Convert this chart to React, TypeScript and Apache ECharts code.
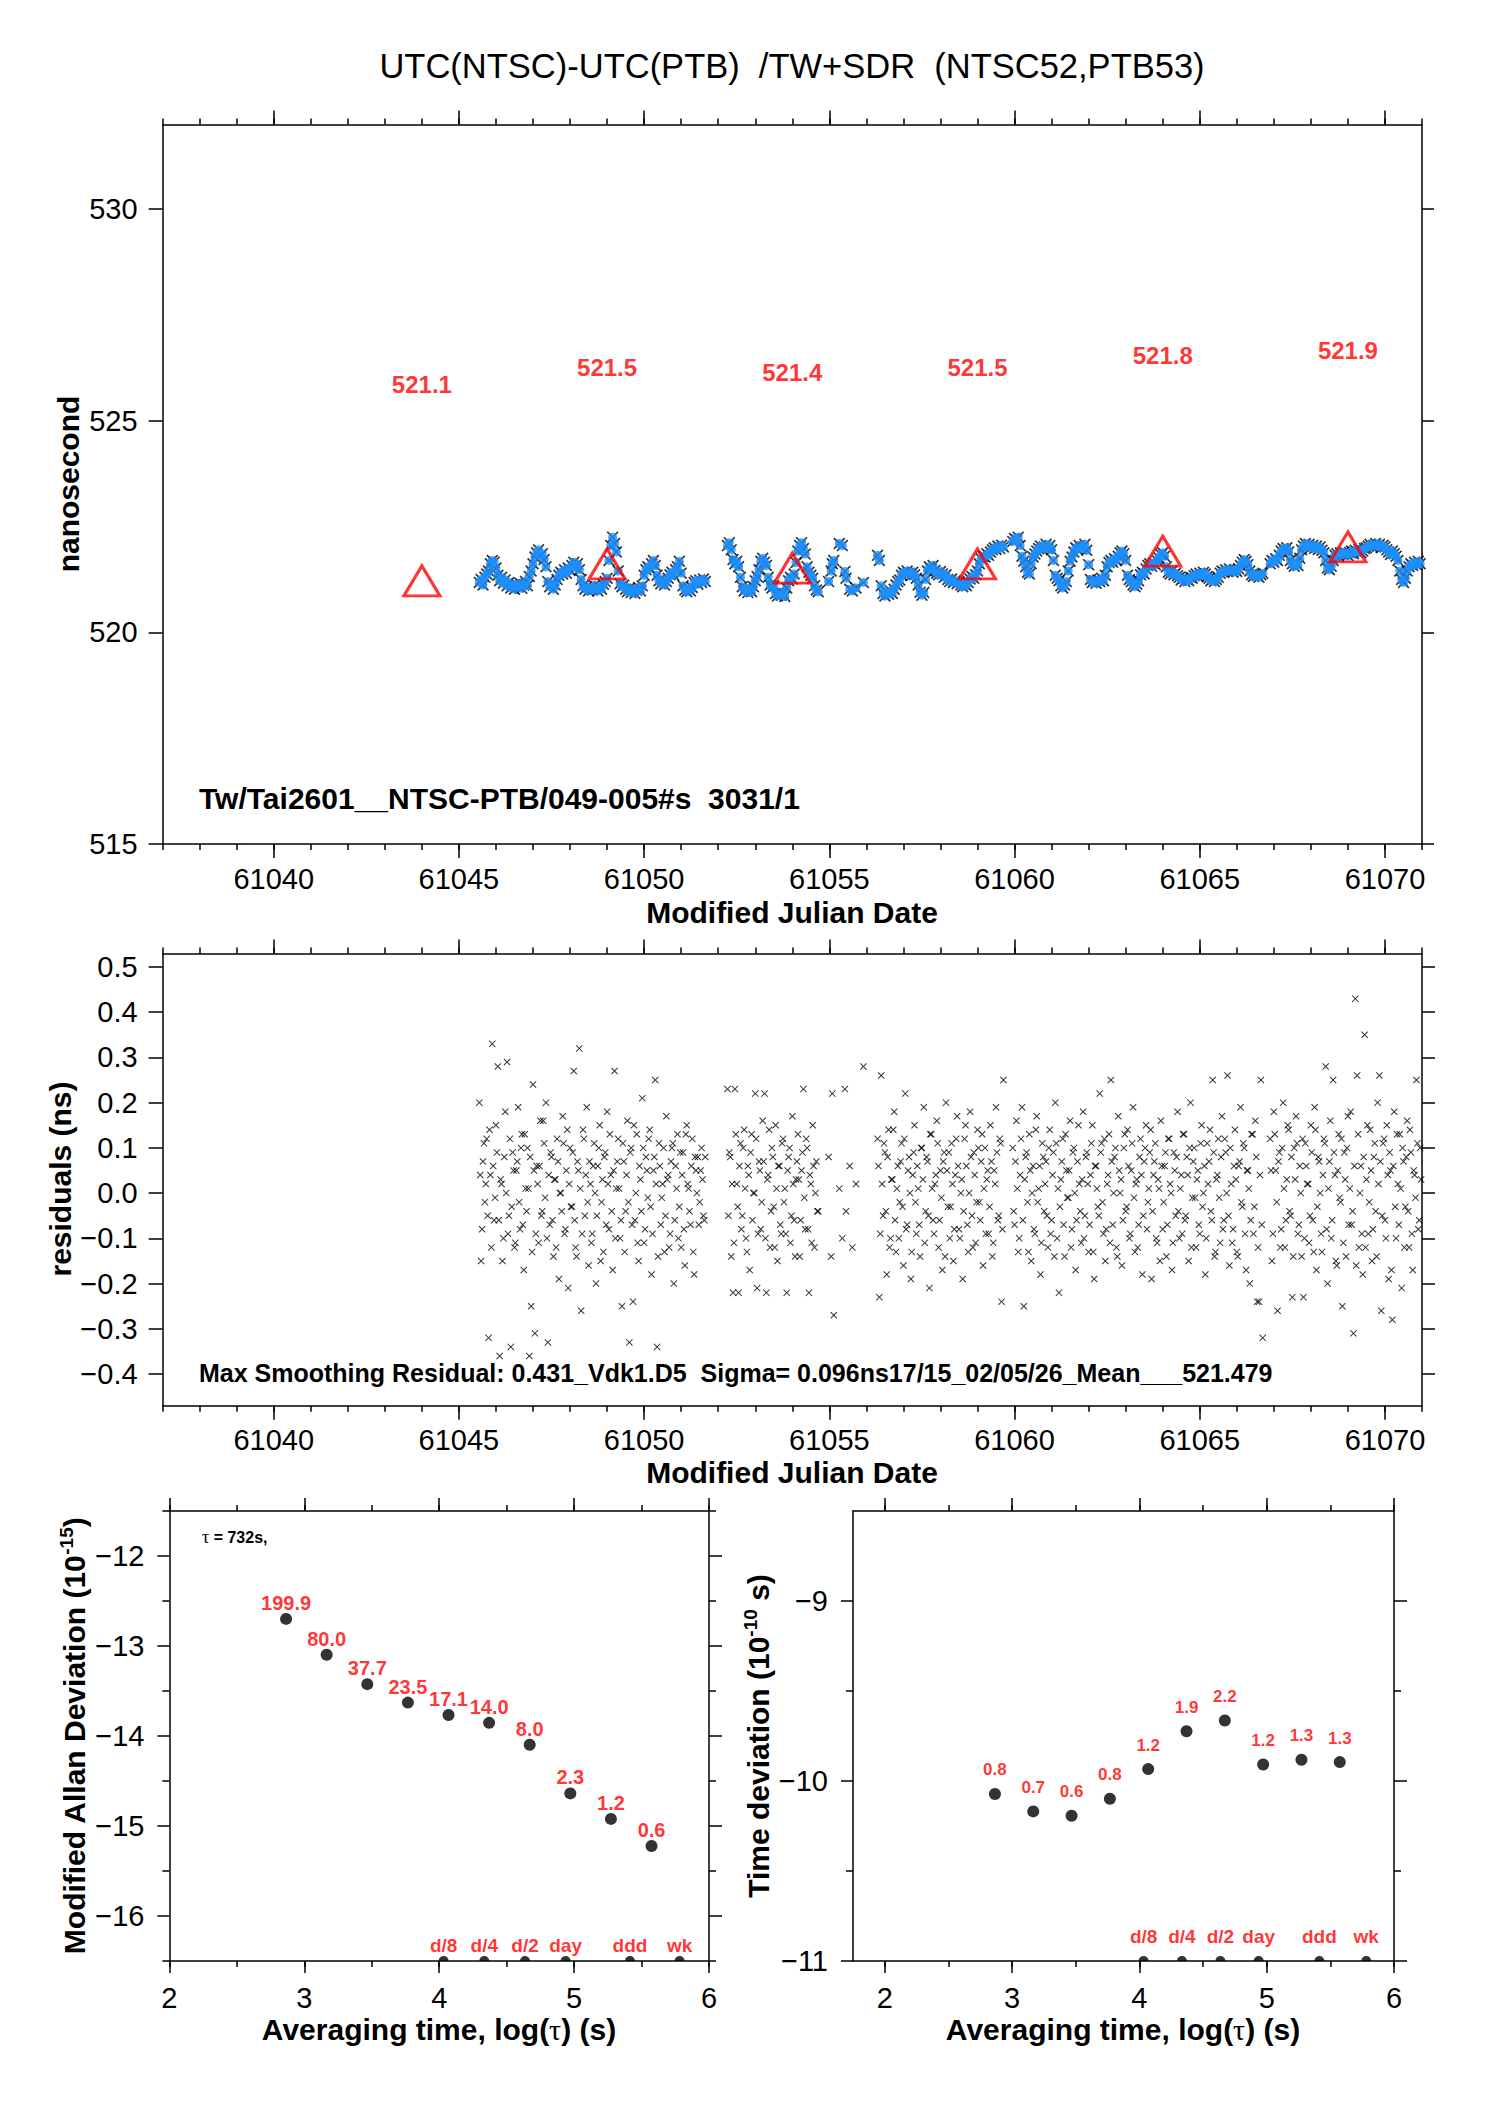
import React, { useEffect, useRef } from 'react';
import * as echarts from 'echarts';

const FONT = '"Liberation Sans", Arial, Helvetica, sans-serif';
const SERIF = '"Liberation Serif", "DejaVu Serif", "Times New Roman", serif';

// ---------- top panel: UTC(NTSC)-UTC(PTB) ----------
const mjdTicks = [61040, 61045, 61050, 61055, 61060, 61065, 61070];
const nsTicks = [515, 520, 525, 530];
const triDays = [61044, 61049, 61054, 61059, 61064, 61069];
const triValues = [521.1, 521.5, 521.4, 521.5, 521.8, 521.9];
const triLabels = ['521.1', '521.5', '521.4', '521.5', '521.8', '521.9'];

// segment A
const tA = [
  61045.55,61045.6,61045.65,61045.7,61045.75,61045.8,61045.85,61045.9,61045.95,61046,
  61046.05,61046.1,61046.15,61046.2,61046.25,61046.3,61046.35,61046.4,61046.45,61046.5,
  61046.55,61046.6,61046.65,61046.7,61046.75,61046.8,61046.85,61046.9,61046.95,61047,
  61047.05,61047.1,61047.15,61047.2,61047.25,61047.3,61047.35,61047.4,61047.45,61047.5,
  61047.55,61047.6,61047.65,61047.7,61047.75,61047.8,61047.85,61047.9,61047.95,61048,
  61048.05,61048.1,61048.15,61048.2,61048.25,61048.3,61048.35,61048.4,61048.45,61048.5,
  61048.55,61048.6,61048.65,61048.7,61048.75,61048.8,61048.85,61048.9,61048.95,61049,
  61049.05,61049.1,61049.15,61049.2,61049.25,61049.3,61049.35,61049.4,61049.45,61049.5,
  61049.55,61049.6,61049.65,61049.7,61049.75,61049.8,61049.85,61049.9,61049.95,61050,
  61050.05,61050.1,61050.15,61050.2,61050.25,61050.3,61050.35,61050.4,61050.45,61050.5,
  61050.55,61050.6,61050.65,61050.7,61050.75,61050.8,61050.85,61050.9,61050.95,61051,
  61051.05,61051.1,61051.15,61051.2,61051.25,61051.3,61051.35,61051.4,61051.45,61051.5,
  61051.55,61051.6,61051.65,
];
const vA = [
  521.18,521.25,521.12,521.30,521.38,521.45,521.62,521.70,521.66,521.52,
  521.35,521.22,521.30,521.16,521.24,521.10,521.18,521.05,521.12,521.02,
  521.14,521.08,521.16,521.04,521.12,521.20,521.10,521.32,521.45,521.62,
  521.78,521.88,521.95,521.80,521.86,521.72,521.55,521.20,521.08,521.14,
  521.02,521.12,521.25,521.35,521.42,521.38,521.48,521.40,521.52,521.46,
  521.58,521.66,521.54,521.62,521.48,521.25,521.10,521.02,521.08,520.98,
  521.06,521.00,521.10,521.04,520.98,521.08,521.02,521.14,521.20,521.28,
  521.70,522.05,522.25,522.10,521.90,521.45,521.15,521.08,521.12,521.02,
  520.96,521.05,520.94,521.02,520.92,521.00,521.06,520.98,521.10,521.35,
  521.48,521.55,521.50,521.62,521.70,521.58,521.35,521.22,521.15,521.24,
  521.12,521.20,521.28,521.36,521.42,521.35,521.48,521.55,521.68,521.40,
  521.10,521.00,520.96,521.04,520.98,521.06,521.18,521.22,521.14,521.24,
  521.18,521.26,521.20,
];
const rA = [
  0.20,-0.15,0.07,-0.02,0.12,-0.32,0.04,0.33,-0.06,0.15,
  0.28,-0.36,0.02,-0.10,0.18,0.29,-0.05,-0.34,0.09,-0.12,
  0.05,0.19,-0.08,0.13,-0.17,0.01,0.10,-0.36,-0.25,0.24,
  -0.31,0.06,-0.11,0.16,-0.04,0.11,0.20,-0.33,-0.07,0.08,
  -0.14,0.03,0.12,-0.19,0.00,0.17,-0.09,0.05,-0.21,0.10,
  -0.03,0.27,-0.12,0.07,0.32,-0.26,0.14,-0.05,0.19,-0.16,
  0.02,-0.09,0.11,-0.20,0.06,0.15,-0.02,-0.13,0.09,0.18,
  -0.08,0.04,-0.17,0.27,0.01,0.12,-0.10,-0.25,0.07,-0.04,
  0.16,-0.33,0.10,-0.24,-0.06,0.13,-0.15,0.03,0.21,-0.11,
  0.08,-0.01,0.14,-0.18,0.05,0.25,-0.34,0.11,-0.07,0.02,
  -0.13,0.17,0.04,-0.09,0.10,-0.20,0.06,0.13,-0.03,-0.12,
  0.09,-0.16,0.15,0.01,-0.07,0.12,-0.18,0.05,0.08,-0.02,
  0.10,-0.05,0.08,
];

// segment B
const tB = [
  61052.25,61052.3,61052.35,61052.4,61052.45,61052.5,61052.55,61052.6,61052.65,61052.7,
  61052.75,61052.8,61052.85,61052.9,61052.95,61053,61053.05,61053.1,61053.15,61053.2,
  61053.25,61053.3,61053.35,61053.4,61053.45,61053.5,61053.55,61053.6,61053.65,61053.7,
  61053.75,61053.8,61053.85,61053.9,61053.95,61054,61054.05,61054.1,61054.15,61054.2,
  61054.25,61054.3,61054.35,61054.4,61054.45,61054.5,61054.55,61054.6,61054.65,61054.7,
];
const vB = [
  522.05,522.12,521.95,521.72,521.62,521.68,521.55,521.30,521.08,520.98,
  521.04,520.94,521.02,520.96,521.08,521.22,521.32,521.48,521.68,521.75,
  521.66,521.58,521.30,521.12,521.05,521.10,520.92,520.86,520.95,520.88,
  520.92,520.85,521.05,521.22,521.30,521.26,521.38,521.65,521.92,522.05,
  522.12,521.98,521.85,521.55,521.42,521.35,521.28,521.10,521.00,520.96,
];
const rB = [
  0.23,0.09,-0.14,-0.22,0.23,0.02,-0.22,0.11,-0.05,0.14,
  -0.10,0.06,-0.17,0.13,0.00,0.22,-0.21,0.07,-0.08,0.16,
  0.22,-0.22,0.04,-0.12,0.10,-0.03,0.15,-0.15,0.06,-0.09,
  0.12,0.01,-0.22,0.08,-0.11,0.17,-0.06,0.03,0.13,-0.14,
  0.05,0.23,-0.08,0.10,-0.22,0.02,0.15,-0.12,0.07,-0.04,
];

// sparse stretch
const tS = [61054.98,61055.05,61055.08,61055.12,61055.27,61055.35,61055.42,61055.45,61055.55,61055.62,61055.72,61055.92];
const vS = [521.20,521.45,521.62,521.70,522.10,522.05,521.44,521.28,521.02,520.98,521.05,521.18];
const rS = [0.08,-0.14,0.22,-0.27,0.01,-0.10,0.23,-0.04,0.06,-0.12,0.02,0.28];

// segment C
const tC = [
  61056.3,61056.35,61056.4,61056.45,61056.5,61056.55,61056.6,61056.65,61056.7,61056.75,
  61056.8,61056.85,61056.9,61056.95,61057,61057.05,61057.1,61057.15,61057.2,61057.25,
  61057.3,61057.35,61057.4,61057.45,61057.5,61057.55,61057.6,61057.65,61057.7,61057.75,
  61057.8,61057.85,61057.9,61057.95,61058,61058.05,61058.1,61058.15,61058.2,61058.25,
  61058.3,61058.35,61058.4,61058.45,61058.5,61058.55,61058.6,61058.65,61058.7,61058.75,
  61058.8,61058.85,61058.9,61058.95,61059,61059.05,61059.1,61059.15,61059.2,61059.25,
  61059.3,61059.35,61059.4,61059.45,61059.5,61059.55,61059.6,61059.65,61059.7,
];
const vC = [
  521.82,521.70,521.10,520.92,520.86,520.95,520.90,520.98,520.92,521.02,
  521.12,521.20,521.24,521.35,521.42,521.38,521.45,521.40,521.34,521.42,
  521.36,521.28,521.12,520.95,520.88,520.94,521.25,521.45,521.55,521.50,
  521.58,521.46,521.40,521.36,521.44,521.38,521.30,521.36,521.25,521.20,
  521.26,521.18,521.22,521.15,521.20,521.12,521.08,521.14,521.10,521.18,
  521.26,521.32,521.28,521.36,521.45,521.62,521.74,521.80,521.78,521.86,
  521.82,521.90,521.95,522.00,521.96,522.04,521.98,522.06,522.02,
];
const rC = [
  0.12,-0.23,0.26,-0.05,0.09,-0.18,0.14,-0.10,0.03,0.18,
  -0.13,0.06,-0.02,0.11,-0.16,0.22,-0.07,0.08,-0.19,0.04,
  0.15,-0.09,0.01,-0.14,0.10,0.19,-0.04,0.07,-0.21,0.13,
  -0.06,0.02,0.16,-0.12,0.05,-0.17,0.09,0.20,-0.03,-0.10,
  0.11,-0.15,0.04,0.17,-0.08,0.00,-0.19,0.12,0.06,-0.13,
  0.18,-0.05,0.09,-0.11,0.14,-0.02,0.07,-0.16,0.10,0.03,
  -0.09,0.15,-0.14,0.05,0.19,-0.06,0.12,-0.24,0.25,
];

// segment D
const tD = [
  61059.95,61060,61060.05,61060.1,61060.15,61060.2,61060.25,61060.3,61060.35,61060.4,
  61060.45,61060.5,61060.55,61060.6,61060.65,61060.7,61060.75,61060.8,61060.85,61060.9,
  61060.95,61061,61061.05,61061.1,61061.15,61061.2,61061.25,61061.3,61061.35,61061.4,
  61061.45,61061.5,61061.55,61061.6,61061.65,61061.7,61061.75,61061.8,61061.85,61061.9,
  61061.95,61062,61062.05,61062.1,61062.15,61062.2,61062.25,61062.3,61062.35,61062.4,
  61062.45,61062.5,61062.55,61062.6,61062.65,61062.7,61062.75,61062.8,61062.85,61062.9,
  61062.95,61063,61063.05,61063.1,61063.15,61063.2,61063.25,61063.3,61063.35,61063.4,
  61063.45,61063.5,61063.55,61063.6,61063.65,61063.7,61063.75,61063.8,61063.85,61063.9,
  61063.95,61064,61064.05,61064.1,61064.15,61064.2,61064.25,61064.3,61064.35,61064.4,
  61064.45,61064.5,61064.55,61064.6,61064.65,61064.7,61064.75,61064.8,61064.85,61064.9,
  61064.95,61065,61065.05,61065.1,61065.15,61065.2,61065.25,61065.3,61065.35,61065.4,
  61065.45,61065.5,61065.55,61065.6,61065.65,61065.7,61065.75,61065.8,61065.85,61065.9,
  61065.95,61066,61066.05,61066.1,61066.15,61066.2,61066.25,61066.3,61066.35,61066.4,
  61066.45,61066.5,61066.55,61066.6,61066.65,61066.7,
];
const vD = [
  522.15,522.22,522.18,522.25,522.05,521.80,521.68,521.55,521.42,521.38,
  521.62,521.78,521.85,521.92,521.98,522.04,521.96,522.02,522.08,521.98,
  522.05,521.95,521.70,521.35,521.28,521.22,521.10,521.05,521.12,521.20,
  521.45,521.68,521.78,521.90,522.00,521.96,522.05,521.98,522.02,522.08,
  521.94,521.60,521.25,521.18,521.22,521.16,521.24,521.20,521.28,521.22,
  521.35,521.55,521.65,521.70,521.66,521.74,521.70,521.80,521.88,521.92,
  521.86,521.70,521.35,521.25,521.20,521.12,521.08,521.14,521.22,521.36,
  521.42,521.38,521.50,521.58,521.62,521.56,521.64,521.60,521.70,521.76,
  521.84,521.88,521.80,521.55,521.42,521.38,521.45,521.36,521.40,521.34,
  521.30,521.24,521.28,521.20,521.26,521.22,521.30,521.28,521.34,521.38,
  521.32,521.40,521.36,521.42,521.38,521.32,521.28,521.22,521.26,521.20,
  521.25,521.30,521.40,521.45,521.42,521.48,521.44,521.50,521.46,521.42,
  521.48,521.44,521.50,521.58,521.66,521.72,521.68,521.60,521.45,521.36,
  521.32,521.38,521.34,521.30,521.36,521.40,
];
const rD = [
  0.10,-0.07,0.16,-0.13,0.04,0.19,-0.25,0.08,-0.02,0.13,
  -0.15,0.06,-0.09,0.17,0.01,-0.18,0.11,-0.04,0.07,-0.12,
  0.14,-0.06,0.09,0.20,-0.10,-0.22,0.03,0.12,-0.14,0.05,
  -0.01,0.16,-0.08,0.10,-0.17,0.07,0.02,-0.11,0.18,-0.05,
  0.09,-0.13,0.04,0.15,-0.19,0.06,-0.03,0.22,0.11,-0.09,
  -0.15,0.02,0.13,0.25,-0.07,0.08,-0.12,0.17,0.00,-0.16,
  0.10,-0.04,0.14,-0.10,0.05,0.19,-0.13,0.03,-0.07,0.12,
  -0.18,0.07,0.15,-0.02,0.09,-0.19,0.04,0.11,-0.11,0.01,
  0.16,-0.08,0.06,-0.14,0.12,0.02,-0.17,0.09,-0.05,0.18,
  -0.10,0.04,0.13,-0.06,0.08,-0.15,0.20,-0.01,0.10,-0.12,
  0.05,-0.09,0.15,0.00,-0.18,0.11,0.07,-0.04,0.25,-0.14,
  0.03,0.12,-0.11,0.17,-0.06,0.09,0.26,-0.16,0.02,-0.08,
  0.14,-0.13,0.06,0.19,-0.03,0.10,-0.17,0.05,-0.20,0.13,
  -0.09,0.16,-0.24,-0.24,0.25,-0.32,
];

// segment E
const tE = [
  61066.9,61066.95,61067,61067.05,61067.1,61067.15,61067.2,61067.25,61067.3,61067.35,
  61067.4,61067.45,61067.5,61067.55,61067.6,61067.65,61067.7,61067.75,61067.8,61067.85,
  61067.9,61067.95,61068,61068.05,61068.1,61068.15,61068.2,61068.25,61068.3,61068.35,
  61068.4,61068.45,61068.5,61068.55,61068.6,61068.65,61068.7,61068.75,61068.8,61068.85,
  61068.9,61068.95,61069,61069.05,61069.1,61069.15,61069.2,61069.25,61069.3,61069.35,
  61069.4,61069.45,61069.5,61069.55,61069.6,61069.65,61069.7,61069.75,61069.8,61069.85,
  61069.9,61069.95,61070,61070.05,61070.1,61070.15,61070.2,61070.25,61070.3,61070.35,
  61070.4,61070.45,61070.5,61070.55,61070.6,61070.65,61070.7,61070.75,61070.8,61070.85,
  61070.9,61070.95,
];
const vE = [
  521.62,521.70,521.66,521.74,521.70,521.82,521.92,521.98,521.94,522.00,
  521.90,521.70,521.62,521.56,521.64,521.58,521.75,521.95,522.04,522.10,
  522.02,522.08,522.00,522.06,521.98,522.04,521.96,522.02,521.94,521.88,
  521.70,521.52,521.48,521.56,521.70,521.82,521.86,521.80,521.88,521.84,
  521.90,521.86,521.82,521.88,521.92,521.86,521.94,521.90,521.96,521.88,
  521.92,521.98,522.00,522.04,522.08,522.02,522.06,522.10,522.04,522.08,
  522.00,522.06,522.02,521.95,521.90,521.84,521.92,521.86,521.80,521.70,
  521.45,521.25,521.18,521.28,521.45,521.55,521.62,521.58,521.66,521.60,
  521.68,521.62,
];
const rE = [
  0.12,-0.15,0.18,0.05,-0.26,0.09,-0.08,0.20,-0.12,0.03,
  0.14,-0.05,-0.23,0.10,0.17,-0.09,0.06,-0.14,-0.23,0.11,
  0.02,-0.11,0.15,-0.06,0.19,-0.17,0.08,0.00,-0.13,0.12,
  0.28,-0.20,0.07,-0.10,0.25,0.04,-0.16,0.13,-0.02,-0.25,
  0.09,-0.14,0.17,0.01,-0.07,-0.31,0.43,0.26,-0.12,0.06,
  -0.18,0.35,0.03,-0.09,0.14,-0.15,0.08,-0.04,0.20,0.26,
  -0.26,0.11,-0.06,0.15,-0.19,0.05,-0.28,0.18,-0.10,0.02,
  0.13,-0.21,0.07,-0.03,0.16,-0.12,0.09,-0.17,0.04,0.25,
  -0.08,0.10,
];

// ---------- middle panel: extra residual samples between the ones above ----------
const tA2 = [
  61045.575,61045.625,61045.675,61045.725,61045.775,61045.825,61045.875,61045.925,61045.975,61046.025,
  61046.075,61046.125,61046.175,61046.225,61046.275,61046.325,61046.375,61046.425,61046.475,61046.525,
  61046.575,61046.625,61046.675,61046.725,61046.775,61046.825,61046.875,61046.925,61046.975,61047.025,
  61047.075,61047.125,61047.175,61047.225,61047.275,61047.325,61047.375,61047.425,61047.475,61047.525,
  61047.575,61047.625,61047.675,61047.725,61047.775,61047.825,61047.875,61047.925,61047.975,61048.025,
  61048.075,61048.125,61048.175,61048.225,61048.275,61048.325,61048.375,61048.425,61048.475,61048.525,
  61048.575,61048.625,61048.675,61048.725,61048.775,61048.825,61048.875,61048.925,61048.975,61049.025,
  61049.075,61049.125,61049.175,61049.225,61049.275,61049.325,61049.375,61049.425,61049.475,61049.525,
  61049.575,61049.625,61049.675,61049.725,61049.775,61049.825,61049.875,61049.925,61049.975,61050.025,
  61050.075,61050.125,61050.175,61050.225,61050.275,61050.325,61050.375,61050.425,61050.475,61050.525,
  61050.575,61050.625,61050.675,61050.725,61050.775,61050.825,61050.875,61050.925,61050.975,61051.025,
  61051.075,61051.125,61051.175,61051.225,61051.275,61051.325,61051.375,61051.425,61051.475,61051.525,
  61051.575,61051.625,
];
const rA2 = [
  0.04,-0.08,0.11,0.02,-0.05,0.14,-0.12,0.06,-0.01,0.09,
  -0.06,0.03,-0.15,0.08,0.00,-0.09,0.12,-0.03,0.05,-0.11,
  0.07,-0.02,0.10,-0.07,0.13,-0.04,0.01,0.08,-0.13,0.05,
  -0.09,0.02,0.06,-0.05,0.16,-0.01,-0.10,0.04,0.09,-0.06,
  0.03,-0.12,0.07,0.00,-0.04,0.11,-0.08,0.14,0.02,-0.03,
  0.09,-0.06,-0.14,0.05,0.01,-0.09,0.12,0.04,-0.02,0.07,
  -0.11,0.06,0.00,-0.05,0.10,-0.15,0.03,0.08,-0.07,0.02,
  0.13,-0.04,0.05,-0.10,0.07,0.01,-0.06,0.11,-0.13,0.04,
  -0.02,0.09,-0.07,0.15,0.00,-0.11,0.06,-0.04,0.10,-0.08,
  0.05,0.12,-0.03,-0.09,0.08,0.02,-0.14,0.06,-0.01,0.10,
  -0.05,0.03,-0.12,0.07,0.11,-0.06,0.01,-0.10,0.09,0.04,
  -0.08,0.13,0.02,-0.04,0.06,-0.13,0.08,0.00,-0.07,0.05,
  0.03,-0.06,
];
const tB2 = [
  61052.275,61052.325,61052.375,61052.425,61052.475,61052.525,61052.575,61052.625,61052.675,61052.725,
  61052.775,61052.825,61052.875,61052.925,61052.975,61053.025,61053.075,61053.125,61053.175,61053.225,
  61053.275,61053.325,61053.375,61053.425,61053.475,61053.525,61053.575,61053.625,61053.675,61053.725,
  61053.775,61053.825,61053.875,61053.925,61053.975,61054.025,61054.075,61054.125,61054.175,61054.225,
  61054.275,61054.325,61054.375,61054.425,61054.475,61054.525,61054.575,61054.625,61054.675,
];
const rB2 = [
  -0.05,0.08,0.02,-0.11,0.13,-0.03,0.06,-0.08,0.10,0.01,
  -0.13,0.04,0.09,-0.06,0.00,0.12,-0.09,0.05,-0.02,0.07,
  -0.10,0.03,0.14,-0.04,0.08,-0.12,0.01,0.06,-0.07,0.11,
  -0.02,-0.09,0.05,0.10,-0.05,0.02,-0.14,0.07,0.03,-0.06,
  0.09,-0.01,0.12,-0.08,0.04,-0.11,0.06,0.00,-0.04,
];
const tC2 = [
  61056.325,61056.375,61056.425,61056.475,61056.525,61056.575,61056.625,61056.675,61056.725,61056.775,
  61056.825,61056.875,61056.925,61056.975,61057.025,61057.075,61057.125,61057.175,61057.225,61057.275,
  61057.325,61057.375,61057.425,61057.475,61057.525,61057.575,61057.625,61057.675,61057.725,61057.775,
  61057.825,61057.875,61057.925,61057.975,61058.025,61058.075,61058.125,61058.175,61058.225,61058.275,
  61058.325,61058.375,61058.425,61058.475,61058.525,61058.575,61058.625,61058.675,61058.725,61058.775,
  61058.825,61058.875,61058.925,61058.975,61059.025,61059.075,61059.125,61059.175,61059.225,61059.275,
  61059.325,61059.375,61059.425,61059.475,61059.525,61059.575,61059.625,61059.675,
];
const rC2 = [
  0.06,-0.09,0.02,0.11,-0.04,0.08,-0.12,0.03,0.14,-0.06,
  0.01,-0.10,0.07,-0.03,0.12,-0.08,0.05,0.00,-0.13,0.09,
  -0.02,0.06,-0.07,0.10,0.03,-0.11,0.08,-0.05,0.13,0.01,
  -0.09,0.04,0.11,-0.06,-0.01,0.07,-0.14,0.05,0.09,-0.03,
  0.02,-0.08,0.12,0.06,-0.10,0.03,-0.04,0.15,-0.07,0.00,
  0.08,-0.12,0.04,-0.02,0.10,-0.06,0.13,0.01,-0.09,0.05,
  -0.03,0.07,-0.11,0.02,0.09,-0.05,0.11,-0.08,
];
const tD2 = [
  61059.975,61060.025,61060.075,61060.125,61060.175,61060.225,61060.275,61060.325,61060.375,61060.425,
  61060.475,61060.525,61060.575,61060.625,61060.675,61060.725,61060.775,61060.825,61060.875,61060.925,
  61060.975,61061.025,61061.075,61061.125,61061.175,61061.225,61061.275,61061.325,61061.375,61061.425,
  61061.475,61061.525,61061.575,61061.625,61061.675,61061.725,61061.775,61061.825,61061.875,61061.925,
  61061.975,61062.025,61062.075,61062.125,61062.175,61062.225,61062.275,61062.325,61062.375,61062.425,
  61062.475,61062.525,61062.575,61062.625,61062.675,61062.725,61062.775,61062.825,61062.875,61062.925,
  61062.975,61063.025,61063.075,61063.125,61063.175,61063.225,61063.275,61063.325,61063.375,61063.425,
  61063.475,61063.525,61063.575,61063.625,61063.675,61063.725,61063.775,61063.825,61063.875,61063.925,
  61063.975,61064.025,61064.075,61064.125,61064.175,61064.225,61064.275,61064.325,61064.375,61064.425,
  61064.475,61064.525,61064.575,61064.625,61064.675,61064.725,61064.775,61064.825,61064.875,61064.925,
  61064.975,61065.025,61065.075,61065.125,61065.175,61065.225,61065.275,61065.325,61065.375,61065.425,
  61065.475,61065.525,61065.575,61065.625,61065.675,61065.725,61065.775,61065.825,61065.875,61065.925,
  61065.975,61066.025,61066.075,61066.125,61066.175,61066.225,61066.275,61066.325,61066.375,61066.425,
  61066.475,61066.525,61066.575,61066.625,61066.675,
];
const rD2 = [
  -0.04,0.07,0.01,-0.10,0.12,-0.06,0.03,0.09,-0.13,0.05,
  0.00,-0.08,0.14,-0.02,0.06,-0.11,0.08,0.02,-0.05,0.10,
  -0.09,0.04,-0.14,0.11,0.01,-0.03,0.07,-0.07,0.13,-0.01,
  0.05,-0.12,0.09,0.00,-0.06,0.15,-0.04,0.03,-0.10,0.08,
  0.02,-0.07,0.11,-0.13,0.06,0.01,-0.05,0.09,-0.02,0.12,
  -0.08,0.04,-0.11,0.07,0.00,0.10,-0.14,0.05,0.03,-0.06,
  0.13,-0.03,0.06,-0.09,0.11,-0.01,0.02,-0.12,0.08,0.04,
  -0.05,0.10,-0.08,0.01,0.14,-0.04,0.07,-0.10,0.03,-0.15,
  0.06,-0.02,0.09,-0.07,0.12,0.00,-0.11,0.05,0.08,-0.04,
  0.01,-0.09,0.13,-0.05,0.04,0.10,-0.12,0.07,-0.01,0.03,
  -0.07,0.11,-0.03,0.06,-0.10,0.02,0.14,-0.06,0.09,-0.13,
  0.04,-0.01,0.08,-0.08,0.12,0.00,-0.05,0.10,-0.11,0.06,
  0.03,-0.14,0.07,-0.02,0.11,-0.09,0.05,0.01,-0.06,0.13,
  -0.03,0.08,-0.12,0.04,-0.07,
];
const tE2 = [
  61066.925,61066.975,61067.025,61067.075,61067.125,61067.175,61067.225,61067.275,61067.325,61067.375,
  61067.425,61067.475,61067.525,61067.575,61067.625,61067.675,61067.725,61067.775,61067.825,61067.875,
  61067.925,61067.975,61068.025,61068.075,61068.125,61068.175,61068.225,61068.275,61068.325,61068.375,
  61068.425,61068.475,61068.525,61068.575,61068.625,61068.675,61068.725,61068.775,61068.825,61068.875,
  61068.925,61068.975,61069.025,61069.075,61069.125,61069.175,61069.225,61069.275,61069.325,61069.375,
  61069.425,61069.475,61069.525,61069.575,61069.625,61069.675,61069.725,61069.775,61069.825,61069.875,
  61069.925,61069.975,61070.025,61070.075,61070.125,61070.175,61070.225,61070.275,61070.325,61070.375,
  61070.425,61070.475,61070.525,61070.575,61070.625,61070.675,61070.725,61070.775,61070.825,61070.875,
  61070.925,61070.975,
];
const rE2 = [
  0.05,-0.09,0.13,-0.02,0.07,-0.12,0.10,0.01,-0.06,0.15,
  -0.04,0.08,-0.14,0.03,0.11,-0.07,0.00,0.12,-0.10,0.06,
  0.02,-0.05,0.09,-0.13,0.14,-0.03,0.07,-0.09,0.04,0.11,
  -0.08,0.01,0.16,-0.06,0.09,-0.15,0.05,-0.01,0.12,-0.11,
  0.03,0.10,-0.07,0.18,-0.04,0.06,-0.16,0.13,0.00,-0.09,
  0.08,-0.12,0.15,-0.02,0.05,-0.08,0.11,-0.14,0.02,0.07,
  -0.05,0.12,-0.10,0.04,0.09,-0.17,0.06,-0.03,0.13,-0.07,
  0.01,0.10,-0.12,0.08,-0.04,0.14,-0.09,0.05,-0.01,0.11,
  -0.06,0.03,
];
const residTicks = [-0.4, -0.3, -0.2, -0.1, 0, 0.1, 0.2, 0.3, 0.4, 0.5];

// ---------- bottom panels ----------
const logTau = [2.865, 3.166, 3.467, 3.768, 4.069, 4.370, 4.671, 4.972, 5.273, 5.574];
const mdevLog = [-12.699, -13.097, -13.424, -13.629, -13.767, -13.854, -14.097, -14.638, -14.921, -15.222];
const mdevLabels = ['199.9', '80.0', '37.7', '23.5', '17.1', '14.0', '8.0', '2.3', '1.2', '0.6'];
const tdevLog = [-10.072, -10.169, -10.193, -10.099, -9.934, -9.724, -9.664, -9.908, -9.882, -9.895];
const tdevLabels = ['0.8', '0.7', '0.6', '0.8', '1.2', '1.9', '2.2', '1.2', '1.3', '1.3'];
const markerTau = [4.033, 4.334, 4.636, 4.937, 5.414, 5.782];
const markerNames = ['d/8', 'd/4', 'd/2', 'day', 'ddd', 'wk'];
const logTicks = [2, 3, 4, 5, 6];
const logMinor = [2, 2.5, 3, 3.5, 4, 4.5, 5, 5.5, 6];
const mdevTicks = [-16, -15, -14, -13, -12];
const mdevMinor = [-16.5, -15.5, -14.5, -13.5, -12.5, -11.5];
const tdevTicks = [-11, -10, -9];
const tdevMinor = [-10.5, -9.5];
const MDEV_MIN = -16.5;
const TDEV_MIN = -11;

const XSYM = 'path://M1,0L5,4L9,0L10,1L6,5L10,9L9,10L5,6L1,10L0,9L4,5L0,1Z';
const HALF = 'path://M0,10A10,10,0,0,1,20,10Z';

const minus = (s: string) => s.replace('-', '\u2212');

type AxOpt = {
  grid: number; pos: string; min: number; max: number; len: number;
  ticks: number[]; labels?: number[]; fmt?: (v: number) => string; margin?: number; line?: boolean;
};
const mkAxis = (o: AxOpt) => ({
  type: 'value',
  gridIndex: o.grid,
  position: o.pos,
  min: o.min,
  max: o.max,
  scale: true,
  splitLine: { show: false },
  splitArea: { show: false },
  axisLine: { show: !!o.line, onZero: false, lineStyle: { color: '#000', width: 1.5 } },
  axisTick: { show: true, inside: false, length: o.len, customValues: o.ticks, lineStyle: { color: '#000', width: 1.5 } },
  axisLabel: o.labels
    ? { show: true, customValues: o.labels, formatter: o.fmt, margin: o.margin, fontSize: 29, color: '#000', fontFamily: FONT }
    : { show: false },
  axisPointer: { show: false },
});

const App: React.FC = () => {
  const ref = useRef<HTMLDivElement>(null);
  useEffect(() => {
    if (!ref.current) return;
    const chart = echarts.init(ref.current, undefined, { renderer: 'svg' });

    const segT = [tA, tB, tS, tC, tD, tE];
    const segV = [vA, vB, vS, vC, vD, vE];
    const segR = [rA, rB, rS, rC, rD, rE];
    const topPts: number[][] = [];
    const resPts: number[][] = [];
    segT.forEach((ts, k) => {
      ts.forEach((t, i) => {
        if (segV[k][i] !== undefined) topPts.push([t, segV[k][i]]);
        if (segR[k][i] !== undefined) resPts.push([t, segR[k][i]]);
      });
    });
    const segT2 = [tA2, tB2, tC2, tD2, tE2];
    const segR2 = [rA2, rB2, rC2, rD2, rE2];
    segT2.forEach((ts, k) => {
      ts.forEach((t, i) => {
        if (segR2[k][i] !== undefined) resPts.push([t, segR2[k][i]]);
      });
    });

    const mjdFmt = (v: number) => String(v);
    const resFmt = (v: number) => minus(v.toFixed(1));
    const intFmt = (v: number) => minus(String(v));
    const mjdAll: number[] = [];
    for (let d = 61037; d <= 61071; d++) mjdAll.push(d);

    const xAxis: any[] = [];
    const yAxis: any[] = [];
    [0, 1].forEach((g) => {
      xAxis.push(mkAxis({ grid: g, pos: 'bottom', min: 61037, max: 61071, len: 14, ticks: mjdTicks, labels: mjdTicks, fmt: mjdFmt, margin: 20, line: true }));
      xAxis.push(mkAxis({ grid: g, pos: 'bottom', min: 61037, max: 61071, len: 6, ticks: mjdAll }));
      xAxis.push(mkAxis({ grid: g, pos: 'top', min: 61037, max: 61071, len: 14, ticks: mjdTicks, line: true }));
      xAxis.push(mkAxis({ grid: g, pos: 'top', min: 61037, max: 61071, len: 6, ticks: mjdAll }));
    });
    [[2, 2], [3, 1.75]].forEach(([g, mn]) => {
      xAxis.push(mkAxis({ grid: g, pos: 'bottom', min: mn, max: 6, len: 12, ticks: logTicks, labels: logTicks, fmt: intFmt, margin: 22, line: true }));
      xAxis.push(mkAxis({ grid: g, pos: 'bottom', min: mn, max: 6, len: 6, ticks: logMinor }));
      xAxis.push(mkAxis({ grid: g, pos: 'top', min: mn, max: 6, len: 13, ticks: logTicks, line: true }));
      xAxis.push(mkAxis({ grid: g, pos: 'top', min: mn, max: 6, len: 6, ticks: logMinor }));
    });

    yAxis.push(mkAxis({ grid: 0, pos: 'left', min: 515, max: 532, len: 14, ticks: nsTicks, labels: nsTicks, fmt: intFmt, margin: 25, line: true }));
    yAxis.push(mkAxis({ grid: 0, pos: 'right', min: 515, max: 532, len: 12, ticks: nsTicks, line: true }));
    yAxis.push(mkAxis({ grid: 1, pos: 'left', min: -0.47, max: 0.53, len: 14, ticks: residTicks, labels: residTicks, fmt: resFmt, margin: 25, line: true }));
    yAxis.push(mkAxis({ grid: 1, pos: 'right', min: -0.47, max: 0.53, len: 13, ticks: residTicks, line: true }));
    yAxis.push(mkAxis({ grid: 2, pos: 'left', min: MDEV_MIN, max: -11.5, len: 12, ticks: mdevTicks, labels: mdevTicks, fmt: intFmt, margin: 25, line: true }));
    yAxis.push(mkAxis({ grid: 2, pos: 'left', min: MDEV_MIN, max: -11.5, len: 7, ticks: mdevMinor }));
    yAxis.push(mkAxis({ grid: 2, pos: 'right', min: MDEV_MIN, max: -11.5, len: 13, ticks: mdevTicks, line: true }));
    yAxis.push(mkAxis({ grid: 2, pos: 'right', min: MDEV_MIN, max: -11.5, len: 7, ticks: mdevMinor }));
    yAxis.push(mkAxis({ grid: 3, pos: 'left', min: TDEV_MIN, max: -8.5, len: 12, ticks: tdevTicks, labels: tdevTicks, fmt: intFmt, margin: 25, line: true }));
    yAxis.push(mkAxis({ grid: 3, pos: 'left', min: TDEV_MIN, max: -8.5, len: 7, ticks: tdevMinor }));
    yAxis.push(mkAxis({ grid: 3, pos: 'right', min: TDEV_MIN, max: -8.5, len: 13, ticks: tdevTicks, line: true }));
    yAxis.push(mkAxis({ grid: 3, pos: 'right', min: TDEV_MIN, max: -8.5, len: 7, ticks: tdevMinor }));

    const redLabel = (size: number, dy: number, names: string[]) => ({
      show: true,
      position: 'inside',
      offset: [0, dy],
      formatter: (p: any) => names[p.dataIndex],
      color: '#FF0000',
      fontWeight: 'bold',
      fontSize: size,
      fontFamily: FONT,
    });

    const series: any[] = [
      { type: 'scatter', xAxisIndex: 0, yAxisIndex: 0, data: topPts, symbol: XSYM, symbolSize: 12, itemStyle: { color: '#000' }, z: 2, silent: true },
      { type: 'scatter', xAxisIndex: 0, yAxisIndex: 0, data: topPts, symbol: 'circle', symbolSize: 9, itemStyle: { color: '#1E90FF' }, z: 3, silent: true },
      {
        type: 'scatter', xAxisIndex: 0, yAxisIndex: 0,
        data: triDays.map((d, i) => [d, triValues[i]]),
        symbol: 'triangle', symbolSize: [36, 30], symbolOffset: [0, -5],
        itemStyle: { color: 'rgba(255,255,255,0)', borderColor: '#FF0000', borderWidth: 3 },
        label: redLabel(24, -196, triLabels), z: 4, silent: true,
      },
      { type: 'scatter', xAxisIndex: 4, yAxisIndex: 2, data: resPts, symbol: XSYM, symbolSize: 7, itemStyle: { color: '#000' }, silent: true },
      {
        type: 'scatter', xAxisIndex: 8, yAxisIndex: 4,
        data: logTau.map((x, i) => [x, mdevLog[i]]),
        symbol: 'circle', symbolSize: 12, itemStyle: { color: '#000' },
        label: redLabel(20, -16, mdevLabels), silent: true,
      },
      {
        type: 'scatter', xAxisIndex: 8, yAxisIndex: 4,
        data: markerTau.map((x) => [x, MDEV_MIN]),
        symbol: HALF, symbolSize: [10, 5], symbolOffset: [0, -2.5], itemStyle: { color: '#000' },
        label: redLabel(19, -13, markerNames), silent: true, clip: false,
      },
      {
        type: 'scatter', xAxisIndex: 12, yAxisIndex: 8,
        data: logTau.map((x, i) => [x, tdevLog[i]]),
        symbol: 'circle', symbolSize: 12, itemStyle: { color: '#000' },
        label: redLabel(17, -24, tdevLabels), silent: true,
      },
      {
        type: 'scatter', xAxisIndex: 12, yAxisIndex: 8,
        data: markerTau.map((x) => [x, TDEV_MIN]),
        symbol: HALF, symbolSize: [10, 5], symbolOffset: [0, -2.5], itemStyle: { color: '#000' },
        label: redLabel(19, -22, markerNames), silent: true, clip: false,
      },
    ];

    const T = (text: string, x: number, y: number, size: number, o: any = {}) => ({
      type: 'text', x, y, rotation: o.rot || 0, silent: true, z: 100,
      style: {
        text, fill: '#000', fontSize: size, fontWeight: o.bold ? 'bold' : 'normal', fontFamily: FONT,
        align: o.align || 'center', verticalAlign: 'middle', rich: o.rich,
      },
    });
    const richBold = (size: number) => ({
      a: { fontSize: size, fontWeight: 'bold', fontFamily: FONT, lineHeight: 34, fill: '#000' },
      s: { fontSize: 19, fontWeight: 'bold', fontFamily: FONT, verticalAlign: 'top', lineHeight: 19, fill: '#000' },
      t: { fontSize: size, fontWeight: 'normal', fontFamily: SERIF, lineHeight: 34, fill: '#000' },
    });
    const R = Math.PI / 2;

    const graphic = [
      T('UTC(NTSC)-UTC(PTB)  /TW+SDR  (NTSC52,PTB53)', 792, 66, 34.5),
      T('nanosecond', 68, 484, 30, { bold: true, rot: R }),
      T('Modified Julian Date', 792, 912, 30, { bold: true }),
      T('Tw/Tai2601__NTSC-PTB/049-005#s  3031/1', 199, 798, 30, { bold: true, align: 'left' }),
      T('residuals (ns)', 60, 1179, 30, { bold: true, rot: R }),
      T('Modified Julian Date', 792, 1472, 30, { bold: true }),
      T('Max Smoothing Residual: 0.431_Vdk1.D5  Sigma= 0.096ns17/15_02/05/26_Mean___521.479', 199, 1373, 25, { bold: true, align: 'left' }),
      T('{a|Modified Allan Deviation (10}{s|-15}{a|)}', 74, 1736, 30, { bold: true, rot: R, rich: richBold(30) }),
      T('{a|Time deviation (10}{s|-10}{a| s)}', 758, 1736, 30, { bold: true, rot: R, rich: richBold(30) }),
      T('{a|Averaging time, log(}{t|\u03c4}{a|) (s)}', 439, 2029, 30, { bold: true, rich: richBold(30) }),
      T('{a|Averaging time, log(}{t|\u03c4}{a|) (s)}', 1123, 2029, 30, { bold: true, rich: richBold(30) }),
      T('{t|\u03c4}{a| = 732s,}', 202, 1537, 17, {
        align: 'left',
        rich: {
          t: { fontSize: 18, fontFamily: SERIF, fill: '#000' },
          a: { fontSize: 16, fontWeight: 'bold', fontFamily: FONT, fill: '#000' },
        },
      }),
    ];

    chart.setOption({
      animation: false,
      backgroundColor: '#ffffff',
      textStyle: { fontFamily: FONT },
      grid: [
        { left: 162.6, top: 124.5, width: 1259.4, height: 719.5 },
        { left: 162.6, top: 953.4, width: 1259.4, height: 452.3 },
        { left: 169.4, top: 1511, width: 539.6, height: 450 },
        { left: 853, top: 1511, width: 541, height: 450 },
      ],
      xAxis,
      yAxis,
      series,
      graphic,
    });
    return () => chart.dispose();
  }, []);
  return (
    <div
      ref={ref}
      style={{ position: 'absolute', left: 0, top: 0, width: 1488, height: 2105, background: '#fff' }}
    />
  );
};

export default App;
